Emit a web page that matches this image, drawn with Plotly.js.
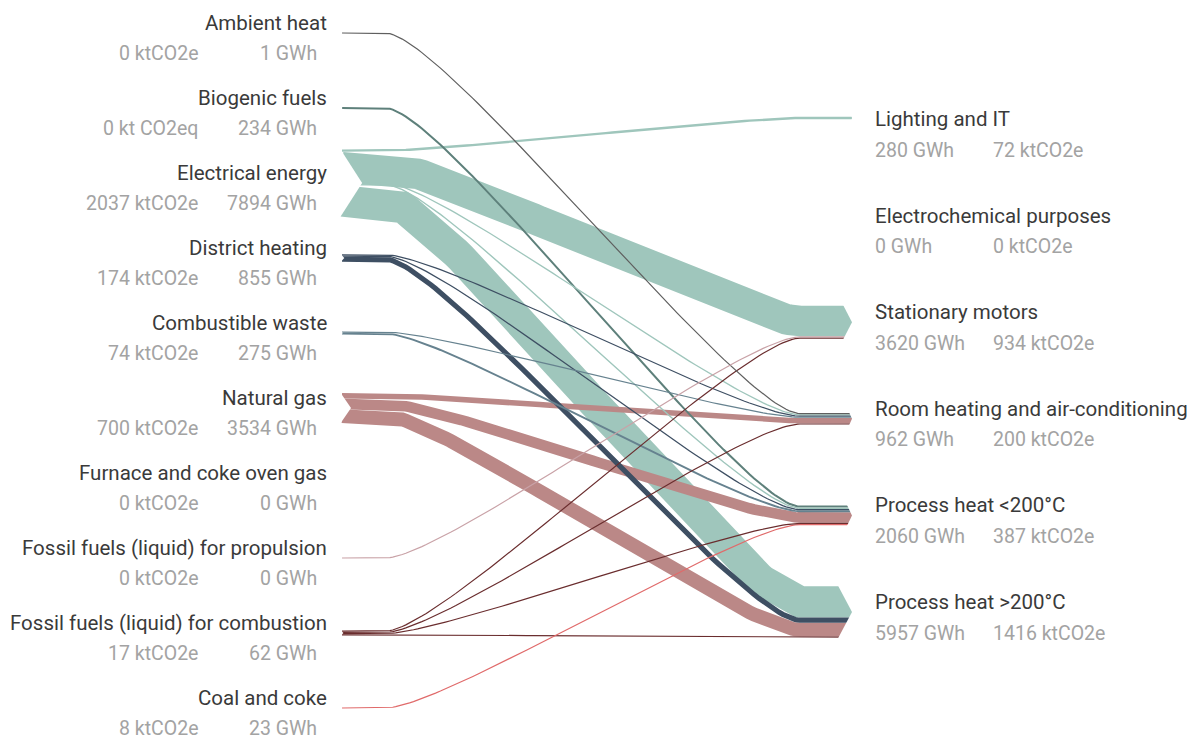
<!DOCTYPE html>
<html>
<head>
<meta charset="utf-8">
<script src="https://cdn.plot.ly/plotly-3.0.1.min.js"></script>
<style>html,body{margin:0;padding:0;background:#fff;}#chart{width:1196px;height:740px;}</style>
</head>
<body>
<div id="chart"></div>
<script>
// ---------- DATA ----------
const sourceNames = ['Ambient heat','Biogenic fuels','Electrical energy','District heating','Combustible waste','Natural gas','Furnace and coke oven gas','Fossil fuels (liquid) for propulsion','Fossil fuels (liquid) for combustion','Coal and coke'];
const sourceGWh = [1, 234, 7894, 855, 275, 3534, 0, 0, 62, 23];
const sourceKt = [0, 0, 2037, 174, 74, 700, 0, 0, 17, 8];
const sourceKtUnit = ['ktCO2e','kt CO2eq','ktCO2e','ktCO2e','ktCO2e','ktCO2e','ktCO2e','ktCO2e','ktCO2e','ktCO2e'];
const sourceColors = ['#5f5f5f','#5e807b','#9fc6bc','#3e4f63','#66828f','#bb8887','#999999','#c9a2a7','#6a2d2e','#e06a6a'];

const targetNames = ['Lighting and IT','Electrochemical purposes','Stationary motors','Room heating and air-conditioning','Process heat <200°C','Process heat >200°C'];
const targetGWh = [280, 0, 3620, 962, 2060, 5957];
const targetKt = [72, 0, 934, 200, 387, 1416];

const linkSource = [0, 1, 2, 2, 2, 2, 2, 3, 3, 3, 4, 4, 5, 5, 5, 7, 8, 8, 8, 8, 9];
const linkTarget = [3, 4, 0, 2, 3, 4, 5, 3, 4, 5, 3, 4, 3, 4, 5, 2, 2, 3, 4, 5, 4];
const linkGWh    = [1, 234, 280, 3615, 150, 163, 3686, 100, 150, 605, 50, 225, 650, 1250, 1634, 0, 5, 10, 15, 32, 23];

// ---------- LAYOUT CONSTANTS ----------
const W = 1196, H = 740;
const K = 0.0085;      // px per GWh
const MINW = 1.2;      // minimum drawn width
const xL = 342, xBendL = 385, xBendR = 800, xR = 852, R = 60;
const leftSlot = i => 33 + 75 * i;
const rightSlot = j => 129 + 96.6 * j;
const rightShift = [-11, 0, 0, 0, 0, 0];

// ---------- LAYOUT COMPUTATION ----------
const links = linkGWh.map((v, i) => ({s: linkSource[i], t: linkTarget[i], v: v, w: Math.max(v * K, MINW)}));
const srcNodes = sourceNames.map((n, i) => ({c: leftSlot(i), h: 0}));
const tgtNodes = targetNames.map((n, j) => ({c: rightSlot(j) + rightShift[j], h: 0}));

srcNodes.forEach((node, i) => {
  const ls = links.filter(l => l.s === i).sort((a, b) => a.t - b.t);
  node.h = ls.reduce((s, l) => s + l.w, 0);
  let y = node.c - node.h / 2;
  ls.forEach(l => { l.sy = y + l.w / 2; y += l.w; });
});
tgtNodes.forEach((node, j) => {
  const ls = links.filter(l => l.t === j).sort((a, b) => a.s - b.s);
  node.h = ls.reduce((s, l) => s + l.w, 0);
  let y = node.c - node.h / 2;
  ls.forEach(l => { l.ty = y + l.w / 2; y += l.w; });
});

function pathFor(l) {
  const xs = [xL], ys = [l.sy];
  const p0 = [xBendL, l.sy], p1 = [xBendL + R, l.sy], p2 = [xBendR - R, l.ty], p3 = [xBendR, l.ty];
  const N = 80;
  for (let i = 0; i <= N; i++) {
    const t = i / N, u = 1 - t;
    xs.push(u*u*u*p0[0] + 3*u*u*t*p1[0] + 3*u*t*t*p2[0] + t*t*t*p3[0]);
    ys.push(u*u*u*p0[1] + 3*u*u*t*p1[1] + 3*u*t*t*p2[1] + t*t*t*p3[1]);
  }
  xs.push(xR); ys.push(l.ty);
  return {xs, ys};
}

const traces = [];
links.slice().sort((a, b) => b.v - a.v).forEach(l => {
  const p = pathFor(l);
  traces.push({type: 'scatter', mode: 'lines', x: p.xs, y: p.ys,
    line: {color: sourceColors[l.s], width: l.w, shape: 'linear'},
    hoverinfo: 'skip', showlegend: false});
});

// node end shapes (white cut-outs forming notch / point)
function whitePoly(xs, ys) {
  traces.push({type: 'scatter', mode: 'lines', x: xs, y: ys, fill: 'toself',
    fillcolor: '#ffffff', line: {width: 0, color: 'rgba(0,0,0,0)'}, hoverinfo: 'skip', showlegend: false});
}
srcNodes.forEach(node => {
  if (node.h <= 0) return;
  const top = node.c - node.h / 2, bot = node.c + node.h / 2, d = 0.3 * node.h;
  whitePoly([xL - 2, xL + d, xL - 2, xL - 2], [top - 1, node.c, bot + 1, top - 1]);
});
tgtNodes.forEach(node => {
  if (node.h <= 0) return;
  const top = node.c - node.h / 2, bot = node.c + node.h / 2, d = 0.28 * node.h;
  whitePoly([xR - d, xR + 3, xR + 3, xR, xR - d], [top - 1.5, top - 1.5, node.c, node.c, top - 1.5]);
  whitePoly([xR - d, xR + 3, xR + 3, xR, xR - d], [bot + 1.5, bot + 1.5, node.c, node.c, bot + 1.5]);
});

// ---------- LABELS ----------
const FONT = 'Roboto, "Open Sans", sans-serif';
const nameFont = {family: FONT, size: 20.5, color: '#3a3a3a'};
const valFont = {family: FONT, size: 19.5, color: '#a3a3a3'};
const ann = [];
function label(x, y, text, font, anchor) {
  ann.push({x: x, y: y, xref: 'x', yref: 'y', text: text, showarrow: false, borderpad: 0,
    xanchor: anchor, yanchor: 'middle', font: font});
}
sourceNames.forEach((n, i) => {
  const c = leftSlot(i);
  label(328, c - 10, n, nameFont, 'right');
  label(199, c + 20.5, sourceKt[i] + ' ' + sourceKtUnit[i], valFont, 'right');
  label(318, c + 20.5, sourceGWh[i] + ' GWh', valFont, 'right');
});
targetNames.forEach((n, j) => {
  const c = rightSlot(j);
  label(874, c - 10, n, nameFont, 'left');
  label(874, c + 21, targetGWh[j] + ' GWh', valFont, 'left');
  label(992, c + 21, targetKt[j] + ' ktCO2e', valFont, 'left');
});

const layout = {
  width: W, height: H,
  margin: {l: 0, r: 0, t: 0, b: 0, pad: 0},
  paper_bgcolor: '#ffffff', plot_bgcolor: '#ffffff',
  showlegend: false,
  xaxis: {range: [0, W], visible: false, fixedrange: true},
  yaxis: {range: [H, 0], visible: false, fixedrange: true},
  annotations: ann
};
Plotly.newPlot('chart', traces, layout, {staticPlot: true, displayModeBar: false});
</script>
</body>
</html>
